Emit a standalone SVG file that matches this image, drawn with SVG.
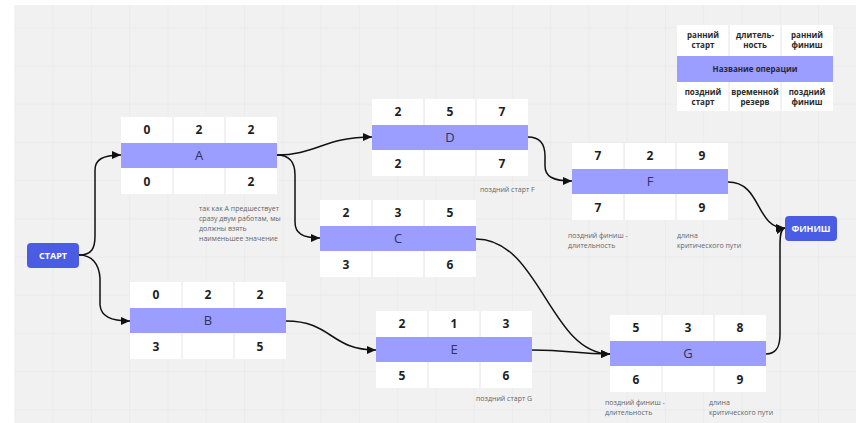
<svg xmlns="http://www.w3.org/2000/svg" width="866" height="423" viewBox="0 0 866 423">
<style>
.cell{fill:#ffffff}
.sep{stroke:#e4e4e4;stroke-width:1}
.band{fill:#9b9dff}
.num{font-family:"Open Sans","Liberation Sans",sans-serif;font-size:12px;font-weight:bold;fill:#1e1e1e;text-anchor:middle}
.lbl{font-family:"Open Sans","Liberation Sans",sans-serif;font-size:13px;fill:#333355;text-anchor:middle}
.leg{font-family:"Open Sans","Liberation Sans",sans-serif;font-size:8px;font-weight:bold;fill:#2a2a2a;text-anchor:middle}
.note{font-family:"Open Sans","Liberation Sans",sans-serif;font-size:7px;fill:#666666}
.term{fill:#4a5ce3}
.tt{font-family:"Open Sans","Liberation Sans",sans-serif;font-size:9px;font-weight:bold;fill:#ffffff;text-anchor:middle}
.conn{fill:none;stroke:#111111;stroke-width:1.5}
</style>
<defs>
<pattern id="grid" patternUnits="userSpaceOnUse" x="14.4" y="-10.9" width="38.27" height="38.2">
<path d="M0,0 L0,38.2 M0,0 L38.27,0" stroke="#e6e6e6" stroke-width="1" fill="none"/>
</pattern>
<marker id="arr" markerUnits="userSpaceOnUse" markerWidth="10" markerHeight="8" refX="9" refY="4" orient="auto">
<path d="M0,0 L9,4 L0,8 z" fill="#111111"/>
</marker>
</defs>
<rect x="14.5" y="5" width="841.5" height="418" fill="#f1f1f1"/>
<rect x="14.5" y="5" width="841.5" height="418" fill="url(#grid)"/>

<g id="legend">
<rect class="cell" x="677" y="25" width="156" height="86"/>
<rect class="band" x="677" y="56" width="156" height="26"/>
<line class="sep" x1="729" y1="25" x2="729" y2="56"/><line class="sep" x1="781" y1="25" x2="781" y2="56"/>
<line class="sep" x1="729" y1="82" x2="729" y2="111"/><line class="sep" x1="781" y1="82" x2="781" y2="111"/>
<text class="leg" x="703" y="38">ранний</text><text class="leg" x="703" y="48">старт</text>
<text class="leg" x="755" y="38">длитель-</text><text class="leg" x="755" y="48">ность</text>
<text class="leg" x="807" y="38">ранний</text><text class="leg" x="807" y="48">финиш</text>
<text class="leg" x="755" y="72">Название операции</text>
<text class="leg" x="703" y="95">поздний</text><text class="leg" x="703" y="105">старт</text>
<text class="leg" x="755" y="95">временной</text><text class="leg" x="755" y="105">резерв</text>
<text class="leg" x="807" y="95">поздний</text><text class="leg" x="807" y="105">финиш</text>
</g>

<g id="connectors">
<path class="conn" marker-end="url(#arr)" d="M79,255 C92,255 95,248 95,236 L95,170 C95,160 102,155 121,155"/>
<path class="conn" marker-end="url(#arr)" d="M79,255 C92,255 99,264 100,278 L100,305 C101,316 110,321 130,321"/>
<path class="conn" marker-end="url(#arr)" d="M277,155 C315,155 325,137 372,137"/>
<path class="conn" marker-end="url(#arr)" d="M277,155 C290,155 295,162 295,175 L295,222 C295,233 302,238 320,238"/>
<path class="conn" marker-end="url(#arr)" d="M528,137 C541,137 545,145 545,156 L545,166 C545,176 552,181 572,181"/>
<path class="conn" marker-end="url(#arr)" d="M728,182 C762,182 755,228 785,228"/>
<path class="conn" marker-end="url(#arr)" d="M766,354 C777,354 780,346 780,334 L780,245 C780,234 781,229 785,228"/>
<path class="conn" marker-end="url(#arr)" d="M476,239 C540,239 550,354 610,354"/>
<path class="conn" marker-end="url(#arr)" d="M532,350 C570,350 575,354 610,354"/>
<path class="conn" marker-end="url(#arr)" d="M286,321 C332,321 330,350 376,350"/>
</g>

<g id="start">
<rect class="term" x="27" y="243" width="52" height="25" rx="4"/>
<text class="tt" x="53" y="259">СТАРТ</text>
</g>
<g id="finish">
<rect class="term" x="785" y="216" width="52" height="25" rx="4"/>
<text class="tt" x="811" y="232">ФИНИШ</text>
</g>

<g id="nodeA" transform="translate(121,117)">
<rect class="cell" width="156" height="77"/><rect class="band" y="26" width="156" height="25"/>
<path class="sep" d="M52,0V26M104,0V26M52,51V77M104,51V77"/>
<text class="num" x="26" y="17">0</text><text class="num" x="78" y="17">2</text><text class="num" x="130" y="17">2</text>
<text class="lbl" x="78" y="43">A</text>
<text class="num" x="26" y="69">0</text><text class="num" x="130" y="69">2</text>
</g>
<g id="nodeD" transform="translate(372,99)">
<rect class="cell" width="156" height="77"/><rect class="band" y="26" width="156" height="25"/>
<path class="sep" d="M52,0V26M104,0V26M52,51V77M104,51V77"/>
<text class="num" x="26" y="17">2</text><text class="num" x="78" y="17">5</text><text class="num" x="130" y="17">7</text>
<text class="lbl" x="78" y="43">D</text>
<text class="num" x="26" y="69">2</text><text class="num" x="130" y="69">7</text>
</g>
<g id="nodeF" transform="translate(572,143)">
<rect class="cell" width="156" height="77"/><rect class="band" y="26" width="156" height="25"/>
<path class="sep" d="M52,0V26M104,0V26M52,51V77M104,51V77"/>
<text class="num" x="26" y="17">7</text><text class="num" x="78" y="17">2</text><text class="num" x="130" y="17">9</text>
<text class="lbl" x="78" y="43">F</text>
<text class="num" x="26" y="69">7</text><text class="num" x="130" y="69">9</text>
</g>
<g id="nodeC" transform="translate(320,200)">
<rect class="cell" width="156" height="77"/><rect class="band" y="26" width="156" height="25"/>
<path class="sep" d="M52,0V26M104,0V26M52,51V77M104,51V77"/>
<text class="num" x="26" y="17">2</text><text class="num" x="78" y="17">3</text><text class="num" x="130" y="17">5</text>
<text class="lbl" x="78" y="43">C</text>
<text class="num" x="26" y="69">3</text><text class="num" x="130" y="69">6</text>
</g>
<g id="nodeB" transform="translate(130,282)">
<rect class="cell" width="156" height="77"/><rect class="band" y="26" width="156" height="25"/>
<path class="sep" d="M52,0V26M104,0V26M52,51V77M104,51V77"/>
<text class="num" x="26" y="17">0</text><text class="num" x="78" y="17">2</text><text class="num" x="130" y="17">2</text>
<text class="lbl" x="78" y="43">B</text>
<text class="num" x="26" y="69">3</text><text class="num" x="130" y="69">5</text>
</g>
<g id="nodeE" transform="translate(376,311)">
<rect class="cell" width="156" height="77"/><rect class="band" y="26" width="156" height="25"/>
<path class="sep" d="M52,0V26M104,0V26M52,51V77M104,51V77"/>
<text class="num" x="26" y="17">2</text><text class="num" x="78" y="17">1</text><text class="num" x="130" y="17">3</text>
<text class="lbl" x="78" y="43">E</text>
<text class="num" x="26" y="69">5</text><text class="num" x="130" y="69">6</text>
</g>
<g id="nodeG" transform="translate(610,315)">
<rect class="cell" width="156" height="77"/><rect class="band" y="26" width="156" height="25"/>
<path class="sep" d="M52,0V26M104,0V26M52,51V77M104,51V77"/>
<text class="num" x="26" y="17">5</text><text class="num" x="78" y="17">3</text><text class="num" x="130" y="17">8</text>
<text class="lbl" x="78" y="43">G</text>
<text class="num" x="26" y="69">6</text><text class="num" x="130" y="69">9</text>
</g>

<g id="notes">
<text class="note" x="199" y="211">так как A предшествует</text>
<text class="note" x="199" y="221">сразу двум работам, мы</text>
<text class="note" x="199" y="231">должны взять</text>
<text class="note" x="199" y="241">наименьшее значение</text>
<text class="note" x="480" y="192">поздний старт F</text>
<text class="note" x="568" y="238">поздний финиш -</text>
<text class="note" x="568" y="248">длительность</text>
<text class="note" x="677" y="238">длина</text>
<text class="note" x="677" y="248">критического пути</text>
<text class="note" x="476" y="401">поздний старт G</text>
<text class="note" x="605" y="405">поздний финиш -</text>
<text class="note" x="605" y="415">длительность</text>
<text class="note" x="709" y="405">длина</text>
<text class="note" x="709" y="415">критического пути</text>
</g>
</svg>
